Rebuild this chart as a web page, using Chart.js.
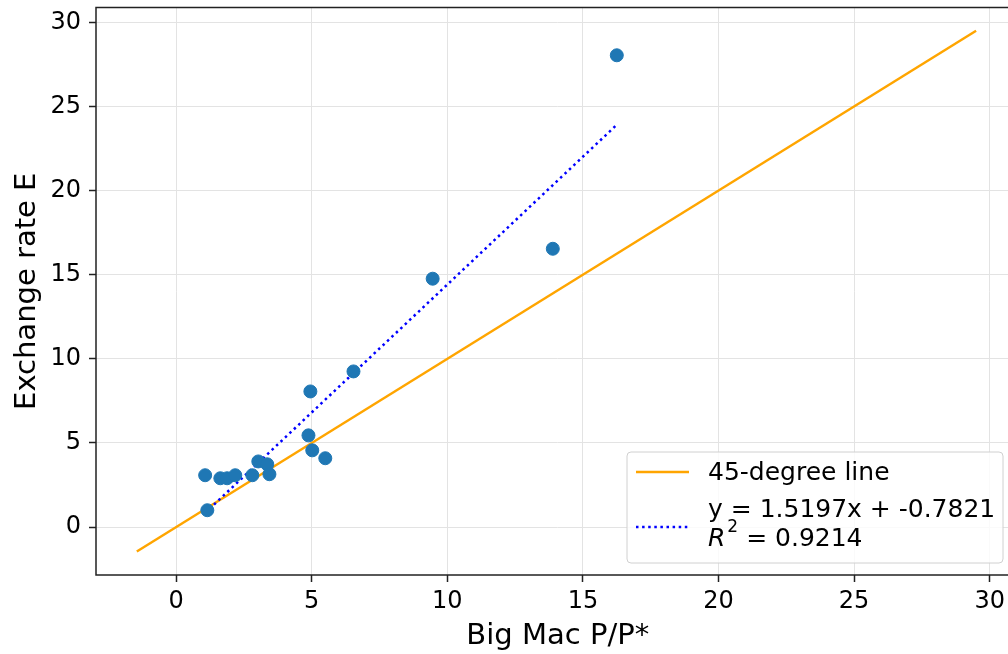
<!DOCTYPE html>
<html>
<head>
<meta charset="utf-8">
<script src="https://cdn.jsdelivr.net/npm/chart.js@4"></script>
<style>
  body { margin: 0; background: #fff; overflow: hidden; }
  /* the original figure is cropped on the right, so the plot runs past the visible edge */
  #crop { width: 1008px; height: 654px; overflow: hidden; }
  #ppChart { display: block; }
</style>
</head>
<body>
<div id="crop"><canvas id="ppChart" width="1027" height="654"></canvas></div>
<script>
// Big Mac P/P* vs exchange rate E
var ppRatio = [1.07, 1.15, 1.63, 1.88, 2.18, 2.81, 3.03, 3.36, 3.44, 4.88, 5.02, 5.50, 4.95, 6.54, 9.46, 13.89, 16.25];
var exRate  = [3.08, 1.00, 2.90, 2.90, 3.08, 3.08, 3.90, 3.73, 3.14, 5.45, 4.56, 4.09, 8.06, 9.25, 14.76, 16.54, 28.04];

// 45-degree reference and fitted line endpoints
var diagX = [-1.45, 29.5];
var diagY = [-1.45, 29.5];
var fitX = [1.07, 16.25];
var fitY = [0.84, 23.91];

var xTicks = [0, 5, 10, 15, 20, 25, 30];
var yTicks = [0, 5, 10, 15, 20, 25, 30];

var legendLine1 = '45-degree line';
var legendLine2 = 'y = 1.5197x + -0.7821';
var legendR2 = '0.9214';

var FONT = "'DejaVu Sans', sans-serif";

function toPoints(xs, ys) {
    return xs.map(function(x, i) { return { x: x, y: ys[i] }; });
}

// frame + legend drawn by hand (legend sits inside the plot area)
var framePlugin = {
    id: 'frameAndLegend',
    afterDraw: function(chart) {
        var ctx = chart.ctx;
        var a = chart.chartArea;
        ctx.save();
        ctx.strokeStyle = '#222';
        ctx.lineWidth = 1.5;
        ctx.strokeRect(a.left, a.top, a.right - a.left, a.bottom - a.top);

        // legend box
        var bx = 627, by = 452, bw = 376, bh = 111, r = 4;
        ctx.beginPath();
        ctx.moveTo(bx + r, by);
        ctx.arcTo(bx + bw, by, bx + bw, by + bh, r);
        ctx.arcTo(bx + bw, by + bh, bx, by + bh, r);
        ctx.arcTo(bx, by + bh, bx, by, r);
        ctx.arcTo(bx, by, bx + bw, by, r);
        ctx.closePath();
        ctx.fillStyle = 'rgba(255,255,255,0.8)';
        ctx.fill();
        ctx.strokeStyle = '#d0d0d0';
        ctx.lineWidth = 1;
        ctx.stroke();

        ctx.lineWidth = 2.5;
        ctx.strokeStyle = '#ffa500';
        ctx.beginPath();
        ctx.moveTo(636, 472); ctx.lineTo(689, 472);
        ctx.stroke();

        ctx.strokeStyle = '#0000ff';
        ctx.setLineDash([2.5, 3.6]);
        ctx.beginPath();
        ctx.moveTo(636, 527); ctx.lineTo(689, 527);
        ctx.stroke();
        ctx.setLineDash([]);

        ctx.fillStyle = '#000';
        ctx.textBaseline = 'middle';
        ctx.textAlign = 'left';
        ctx.font = '25px ' + FONT;
        ctx.fillText(legendLine1, 708, 473);
        ctx.fillText(legendLine2, 708, 510);
        ctx.font = 'italic 25px ' + FONT;
        ctx.fillText('R', 708, 539);
        var rw = ctx.measureText('R').width;
        ctx.font = '17px ' + FONT;
        ctx.fillText('2', 708 + rw + 2, 528);
        var sw = ctx.measureText('2').width;
        ctx.font = '25px ' + FONT;
        ctx.fillText(' = ' + legendR2, 708 + rw + 2 + sw, 539);
        ctx.restore();
    }
};

function setTicks(list) {
    return function(scale) {
        scale.ticks = list.map(function(v) { return { value: v }; });
    };
}

window.initPPChart = function() {
    var canvas = document.getElementById('ppChart');
    if (!canvas) {
        console.error('Chart canvas not found.');
        return;
    }

    new Chart(canvas, {
        type: 'scatter',
        data: {
            datasets: [
                {
                    label: 'data',
                    data: toPoints(ppRatio, exRate),
                    backgroundColor: '#1f77b4',
                    borderColor: '#1f77b4',
                    pointRadius: 6.5,
                    pointHoverRadius: 6.5,
                    order: 0
                },
                {
                    label: legendLine1,
                    type: 'line',
                    data: toPoints(diagX, diagY),
                    borderColor: '#ffa500',
                    borderWidth: 2.5,
                    pointRadius: 0,
                    fill: false,
                    order: 2
                },
                {
                    label: legendLine2,
                    type: 'line',
                    data: toPoints(fitX, fitY),
                    borderColor: '#0000ff',
                    borderWidth: 2.5,
                    borderDash: [2.5, 3.6],
                    pointRadius: 0,
                    fill: false,
                    order: 1
                }
            ]
        },
        options: {
            responsive: false,
            devicePixelRatio: 1,
            animation: false,
            layout: { padding: { left: 0, right: 1, top: 5, bottom: 0 } },
            plugins: { legend: { display: false }, tooltip: { enabled: false } },
            scales: {
                x: {
                    type: 'linear',
                    min: -2.955,
                    max: 31.1,
                    afterBuildTicks: setTicks(xTicks),
                    afterFit: function(s) {
                        s.height = 79;
                        s.paddingLeft = 0; s.paddingRight = 0;
                    },
                    border: { display: false },
                    grid: { color: '#e3e3e3', lineWidth: 1, tickLength: 7, tickColor: '#222', tickWidth: 1.5 },
                    ticks: { color: '#000', font: { family: FONT, size: 24 }, padding: 5, maxRotation: 0 },
                    title: { display: true, text: 'Big Mac P/P*', color: '#000', font: { family: FONT, size: 29 }, padding: { top: 0, bottom: 0 } }
                },
                y: {
                    type: 'linear',
                    min: -2.85,
                    max: 30.88,
                    afterBuildTicks: setTicks(yTicks),
                    afterFit: function(s) {
                        s.width = 96;
                        s.paddingTop = 0; s.paddingBottom = 0;
                    },
                    border: { display: false },
                    grid: { color: '#e3e3e3', lineWidth: 1, tickLength: 7, tickColor: '#222', tickWidth: 1.5 },
                    ticks: { color: '#000', font: { family: FONT, size: 24 }, padding: 8 },
                    title: { display: true, text: 'Exchange rate E', color: '#000', font: { family: FONT, size: 29 }, padding: { top: 10, bottom: 0 } }
                }
            }
        },
        plugins: [framePlugin]
    });
};

window.initPPChart();
</script>
</body>
</html>
